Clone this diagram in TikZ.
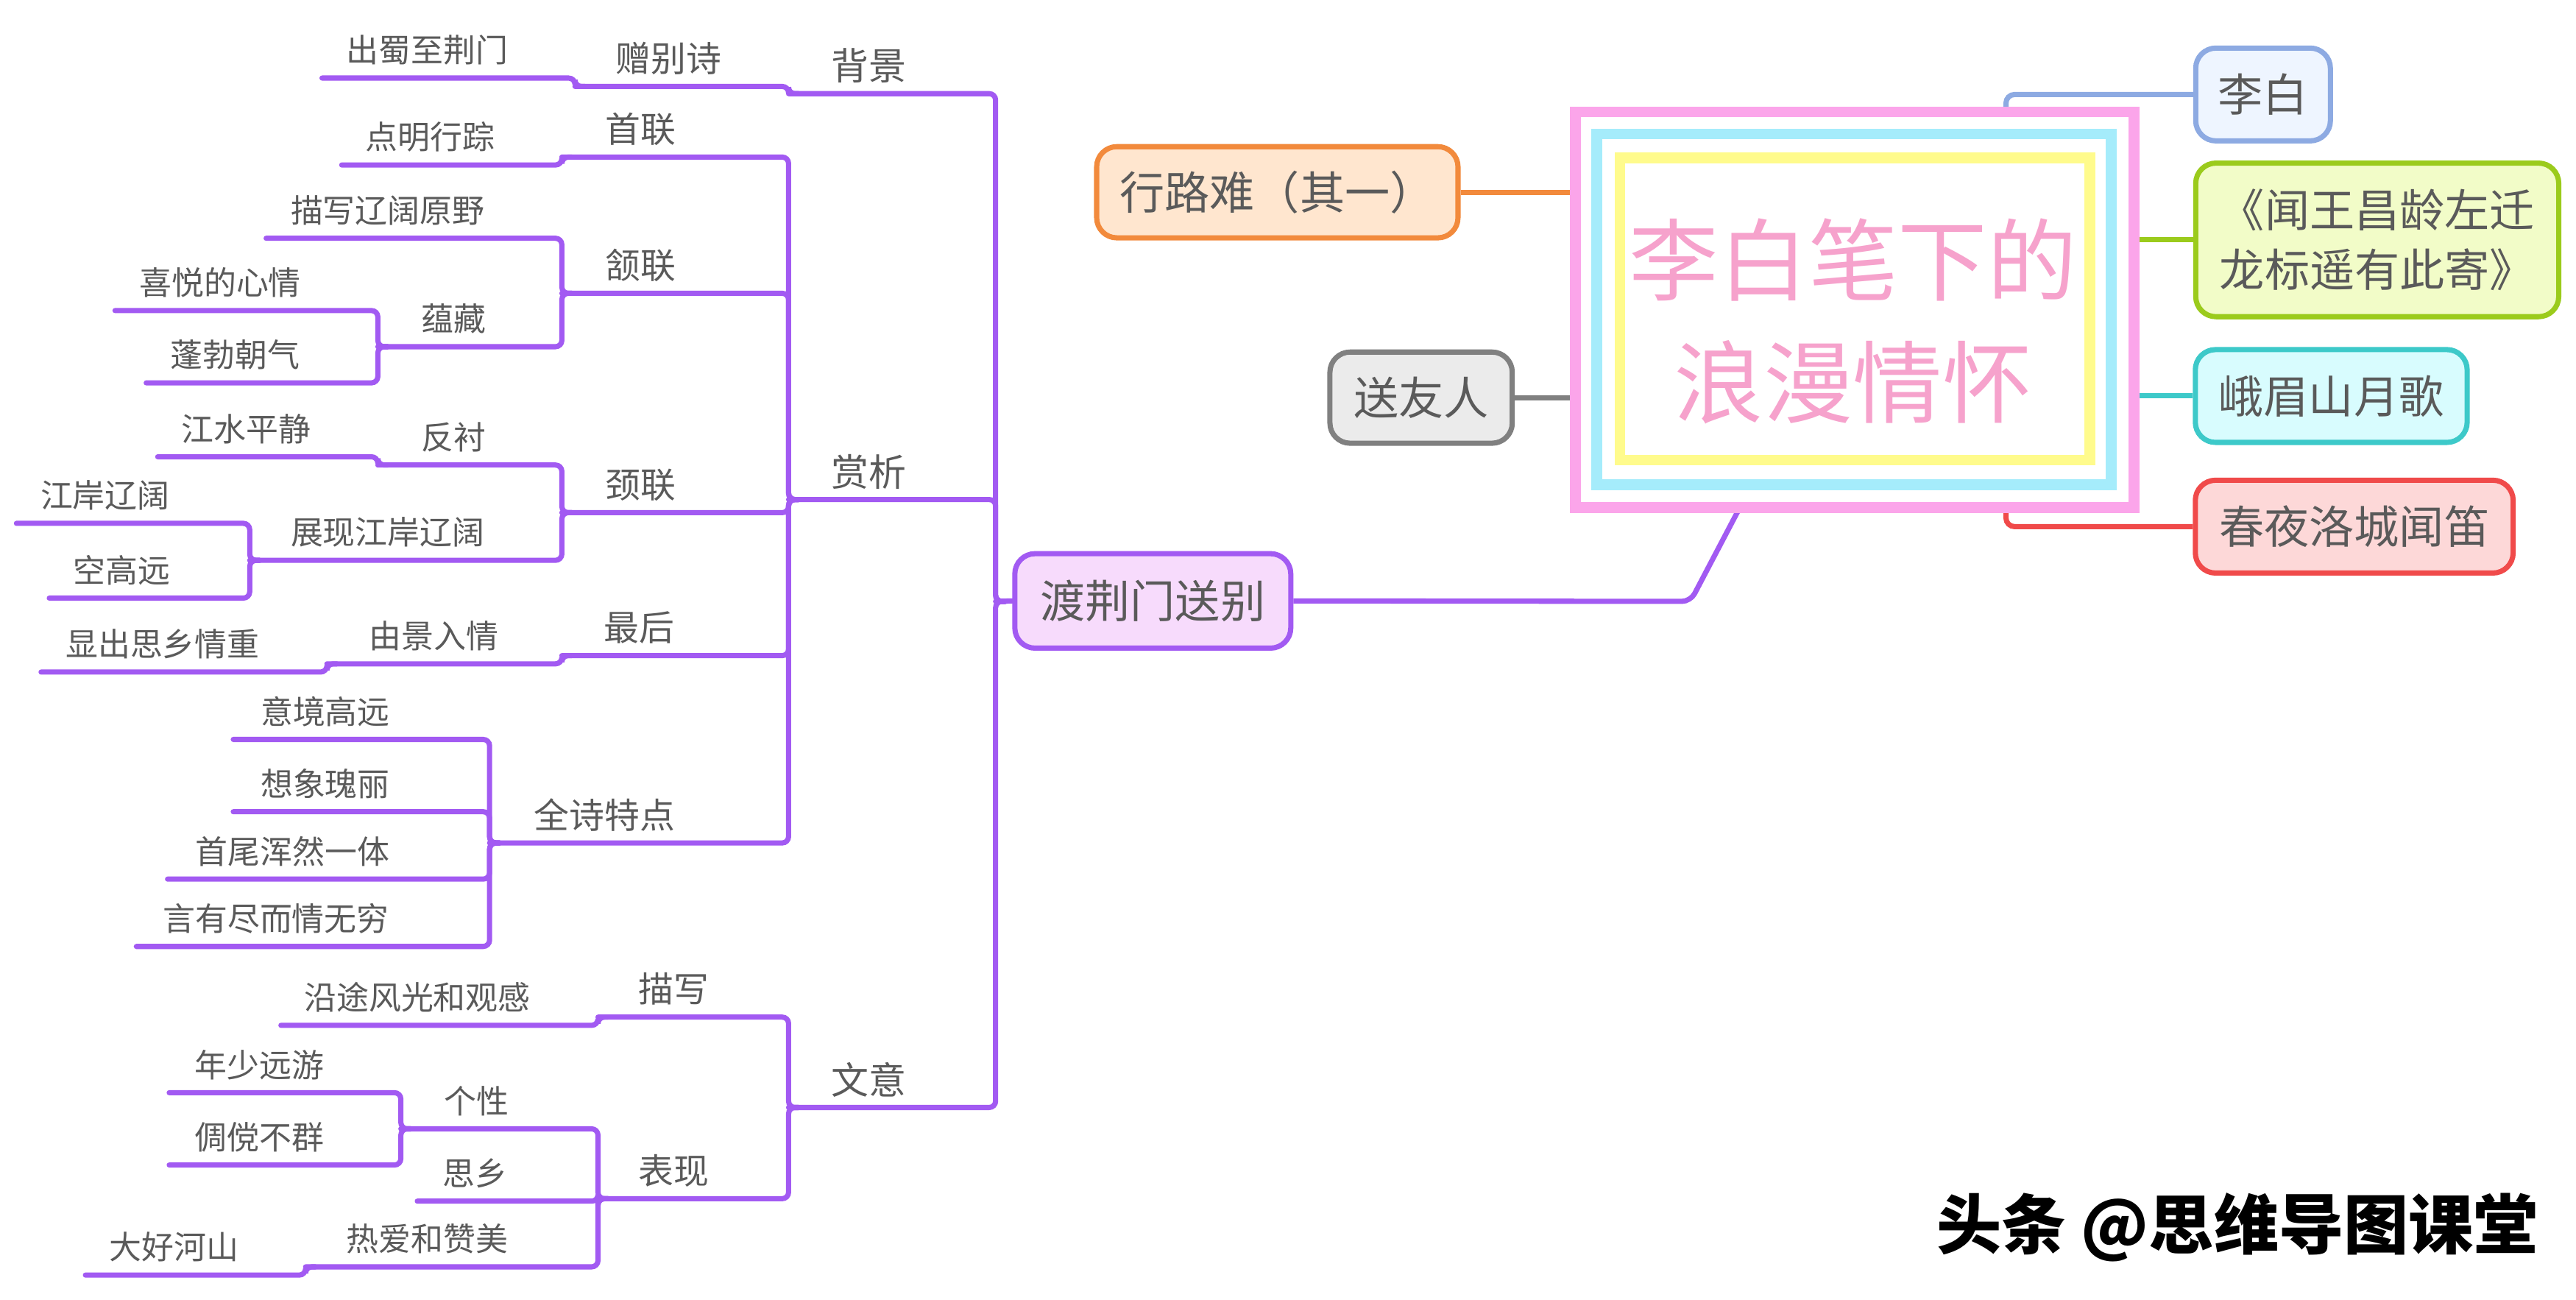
\documentclass[tikz,border=0pt]{standalone}
\usepackage{fontspec}
\setmainfont{Noto Sans CJK SC}
\usetikzlibrary{calc}
\definecolor{tline}{HTML}{A25AF2}
\definecolor{txtg}{HTML}{5A5A5A}
\definecolor{duF}{HTML}{F7DBFC}
\definecolor{orB}{HTML}{F28A3C}\definecolor{orF}{HTML}{FFE6CF}
\definecolor{grB}{HTML}{808080}\definecolor{grF}{HTML}{EBEBEB}
\definecolor{blB}{HTML}{8DAAE2}\definecolor{blF}{HTML}{EEF5FF}
\definecolor{gnB}{HTML}{9BCB1C}\definecolor{gnF}{HTML}{F2FCC8}
\definecolor{tlB}{HTML}{3DC9C9}\definecolor{tlF}{HTML}{D8FCFE}
\definecolor{rdB}{HTML}{F04A4A}\definecolor{rdF}{HTML}{FDD8D8}
\definecolor{pkFrame}{HTML}{FBA5EA}
\definecolor{bluFrame}{HTML}{A5ECFB}
\definecolor{yelFrame}{HTML}{FFFB8C}
\definecolor{titlePk}{HTML}{F6A2CC}
\tikzset{
  tree/.style={draw=tline, line width=1.8pt, rounded corners=2.2pt, line cap=round},
  lvA/.style={text=txtg, inner sep=0pt, font=\fontsize{13}{15}\selectfont},
  lvB/.style={text=txtg, inner sep=0pt, font=\fontsize{12.2}{14}\selectfont},
  lvC/.style={text=txtg, inner sep=0pt, font=\fontsize{11.2}{13}\selectfont},
  topic/.style={rounded corners=7pt, line width=1.8pt, text=txtg, inner sep=0pt,
     font=\fontsize{15.6}{20.7}\selectfont, align=center},
  conn/.style={line width=1.8pt, rounded corners=3pt},
  frame/.style={line width=3.7pt, inner sep=0pt}
}
\newcommand{\mmi}[8]{%
  \coordinate (#1L) at (#3,#5);
  \coordinate (#1R) at (#4,#5);
  \node[#7] (#1) at (#6,#5-17) {#8};
  \draw[tree] (#1L) -- (#1R) -- (#2L) -- ++(6,0);
}
\begin{document}
\begin{tikzpicture}[x=0.02cm,y=-0.02cm]
\useasboundingbox[fill=white] (0,0) rectangle (1568,791);

% ---- topic boxes ----
\node[topic, draw=tline, fill=duF, minimum width=3.36cm, minimum height=1.15cm] (du) at (701.7,365.7) {渡荆门送别};
\node[topic, draw=orB, fill=orF, minimum width=4.40cm, minimum height=1.11cm] (xl) at (777.5,117) {行路难（其一）};
\node[topic, draw=grB, fill=grF, minimum width=2.22cm, minimum height=1.11cm] (sy) at (865,242) {送友人};
\node[topic, draw=blB, fill=blF, minimum width=1.64cm, minimum height=1.13cm] (lb) at (1377.5,57.5) {李白};
\node[topic, draw=gnB, fill=gnF, minimum width=4.42cm, minimum height=1.87cm] (wc) at (1447,146) {《闻王昌龄左迁\\龙标遥有此寄》};
\node[topic, draw=tlB, fill=tlF, minimum width=3.31cm, minimum height=1.13cm] (em) at (1419,241) {峨眉山月歌};
\node[topic, draw=rdB, fill=rdF, minimum width=3.87cm, minimum height=1.13cm] (cy) at (1433,320.5) {春夜洛城闻笛};

% ---- connectors to the central box ----
\coordinate (cTop) at (1221,70);
\coordinate (cBotR) at (1221,307);
\coordinate (cRa) at (1297,146);
\coordinate (cRb) at (1297,241);
\coordinate (cLa) at (961,117);
\coordinate (cLb) at (961,242);
\coordinate (cBot) at (1060,307);
\coordinate (duBend) at (1029,366);
\draw[conn, draw=blB] (cTop) |- (lb.west);
\draw[conn, draw=rdB] (cBotR) |- (cy.west);
\draw[conn, draw=gnB] (cRa) -- (wc.west);
\draw[conn, draw=tlB] (cRb) -- (em.west);
\draw[conn, draw=orB] (xl.east) -- (cLa);
\draw[conn, draw=grB] (sy.east) -- (cLb);
\draw[conn, draw=tline] (du.east) -- (duBend) -- (cBot);

% ---- central box ----
\node[frame, draw=pkFrame, fill=white, minimum width=6.80cm, minimum height=4.82cm] (center) at (1129,188.5) {};
\node[frame, draw=bluFrame, minimum width=6.26cm, minimum height=4.27cm] (cframeB) at (1128.5,188.3) {};
\node[frame, draw=yelFrame, minimum width=5.72cm, minimum height=3.68cm] (cframeY) at (1129,188) {};
\node[text=titlePk, inner sep=0pt, align=center, font=\fontsize{31}{42.5}\selectfont] (title) at (1128,195.5) {李白笔下的\\浪漫情怀};

% ---- tree ----
\coordinate (duL) at (606,366);
\draw[tree] (duL) -- (du.west);
\mmi{bj}{du}{480}{606}{57}{529}{lvA}{背景}
\mmi{zbs}{bj}{350}{480}{52.6}{407}{lvB}{赠别诗}
\mmi{cs}{zbs}{196}{350}{47.5}{260}{lvC}{出蜀至荆门}
\mmi{sx}{du}{480}{606}{304}{529}{lvA}{赏析}
\mmi{sl}{sx}{342}{480}{95.6}{390}{lvB}{首联}
\mmi{dm}{sl}{208}{342}{100.4}{262}{lvC}{点明行踪}
\mmi{hl}{sx}{342}{480}{178.5}{390}{lvB}{颔联}
\mmi{mx}{hl}{162}{342}{145}{236}{lvC}{描写辽阔原野}
\mmi{yc}{hl}{230}{342}{211}{276}{lvC}{蕴藏}
\mmi{xy}{yc}{70}{230}{189}{134}{lvC}{喜悦的心情}
\mmi{pb}{yc}{89}{230}{233}{143}{lvC}{蓬勃朝气}
\mmi{jl}{sx}{342}{480}{312}{390}{lvB}{颈联}
\mmi{fc}{jl}{230}{342}{283}{276}{lvC}{反衬}
\mmi{js}{fc}{96}{230}{278}{150}{lvC}{江水平静}
\mmi{zx}{jl}{152}{342}{341}{236}{lvC}{展现江岸辽阔}
\mmi{ja}{zx}{10}{152}{318.5}{64}{lvC}{江岸辽阔}
\mmi{kg}{zx}{30}{152}{364}{74}{lvC}{空高远}
\mmi{zh}{sx}{342}{480}{399}{389}{lvB}{最后}
\mmi{yj}{zh}{199}{342}{404}{264}{lvC}{由景入情}
\mmi{xc}{yj}{25}{199}{409}{99}{lvC}{显出思乡情重}
\mmi{qs}{sx}{298}{480}{513}{368}{lvB}{全诗特点}
\mmi{yjg}{qs}{142}{298}{450}{198}{lvC}{意境高远}
\mmi{xx}{qs}{142}{298}{494}{198}{lvC}{想象瑰丽}
\mmi{sw}{qs}{102}{298}{535}{178}{lvC}{首尾浑然一体}
\mmi{yy}{qs}{83}{298}{576}{168}{lvC}{言有尽而情无穷}
\mmi{wy}{du}{480}{606}{674}{529}{lvA}{文意}
\mmi{mxie}{wy}{364}{480}{619}{410}{lvB}{描写}
\mmi{yt}{mxie}{171}{364}{624}{254}{lvC}{沿途风光和观感}
\mmi{bx}{wy}{364}{480}{729.5}{410}{lvB}{表现}
\mmi{gx}{bx}{244}{364}{687}{290}{lvC}{个性}
\mmi{ns}{gx}{103}{244}{665}{158}{lvC}{年少远游}
\mmi{td}{gx}{103}{244}{709}{158}{lvC}{倜傥不群}
\mmi{sxg}{bx}{254}{364}{731}{289}{lvC}{思乡}
\mmi{ra}{bx}{186}{364}{771}{260}{lvC}{热爱和赞美}
\mmi{dh}{ra}{52}{186}{776}{106}{lvC}{大好河山}

% ---- watermark ----
\node[inner sep=0pt, text=black, font=\fontsize{22.5}{26}\selectfont\bfseries] (wm) at (1362,747) {头条 @思维导图课堂};
\end{tikzpicture}
\end{document}
